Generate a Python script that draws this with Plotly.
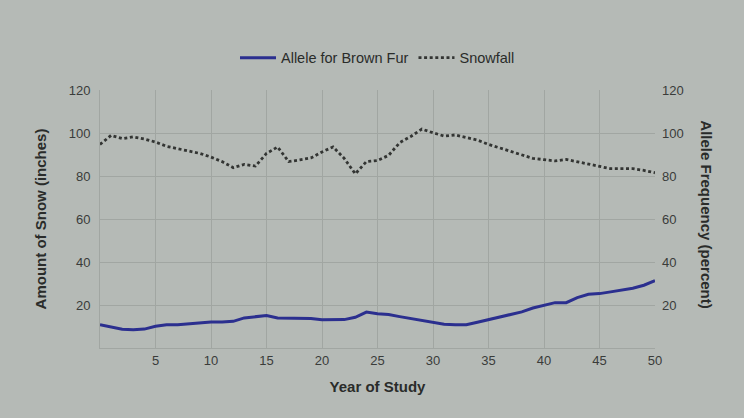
import plotly.graph_objects as go

years = list(range(0, 51))

snowfall = [94.7, 98.9, 97.4, 98.2, 97.2, 95.8, 93.8, 92.7, 91.6, 90.5,
            88.8, 86.7, 83.9, 85.4, 84.6, 90.5, 93.5, 86.7, 87.5, 88.4,
            91.2, 93.5, 88.2, 81.0, 86.7, 87.2, 89.6, 95.5, 98.4, 101.8,
            100.1, 98.6, 99.1, 98.0, 96.7, 94.7, 93.1, 91.3, 89.8, 88.2,
            87.6, 87.0, 87.7, 86.7, 85.4, 84.6, 83.4, 83.4, 83.4, 82.6, 81.5]

allele_brown = [10.8, 9.6, 8.7, 8.5, 8.8, 10.1, 10.8, 10.8, 11.2, 11.8,
                12.1, 12.1, 12.4, 14.0, 14.5, 15.1, 14.0, 14.0, 14.0, 13.7,
                13.1, 13.2, 13.2, 14.3, 16.7, 15.9, 15.6, 14.6, 13.7, 12.7,
                11.7, 11.0, 10.8, 10.8, 12.0, 13.2, 14.3, 15.4, 16.8, 18.6,
                19.8, 21.1, 21.1, 23.4, 25.0, 25.3, 26.1, 27.1, 27.8, 29.2, 31.3]

x_ticks = [5, 10, 15, 20, 25, 30, 35, 40, 45, 50]
y_ticks = [20, 40, 60, 80, 100, 120]

BG = "#b5bab6"
GRID = "#a1a6a2"
FONT = "Liberation Sans, Arial, sans-serif"

fig = go.Figure()
fig.add_trace(go.Scatter(x=years, y=allele_brown, name="Allele for Brown Fur",
                         mode="lines", yaxis="y2",
                         line=dict(color="#2b2f8f", width=3)))
fig.add_trace(go.Scatter(x=years, y=snowfall, name="Snowfall",
                         mode="lines",
                         line=dict(color="#333533", width=2.8, dash="3px,2.6px")))

fig.update_layout(
    width=744, height=418,
    paper_bgcolor=BG, plot_bgcolor=BG,
    margin=dict(l=100, r=89, t=90, b=70),
    font=dict(family=FONT, color="#3a3c3a", size=13),
    showlegend=True,
    legend=dict(orientation="h", x=0.5, xanchor="center", y=1.125, yanchor="middle",
                bgcolor="rgba(0,0,0,0)", font=dict(size=14.5, color="#2a2c2a"),
                itemwidth=36, tracegroupgap=0),
    xaxis=dict(range=[0, 50], tickvals=x_ticks, showgrid=True, gridcolor=GRID,
               zeroline=False, showline=True, linecolor=GRID, ticks="",
               title=dict(text="<b>Year of Study</b>", font=dict(size=15, color="#2a2c2a"),
                          standoff=14)),
    yaxis=dict(range=[0, 120], tickvals=y_ticks, showgrid=True, gridcolor=GRID,
               zeroline=False, showline=True, linecolor=GRID, ticks="",
               ticklabelstandoff=6,
               title=dict(text="<b>Amount of Snow (inches)</b>",
                          font=dict(size=15, color="#2a2c2a"), standoff=18)),
    yaxis2=dict(range=[0, 120], tickvals=y_ticks, overlaying="y", side="right",
                showgrid=False, zeroline=False, showline=False, ticks="",
                ticklabelstandoff=6),
    annotations=[dict(text="<b>Allele Frequency (percent)</b>", textangle=90,
                      xref="paper", yref="paper", x=1.0, xshift=62, y=0.52,
                      showarrow=False, font=dict(size=15, color="#2a2c2a"))],
)

fig.write_html("out.html")
